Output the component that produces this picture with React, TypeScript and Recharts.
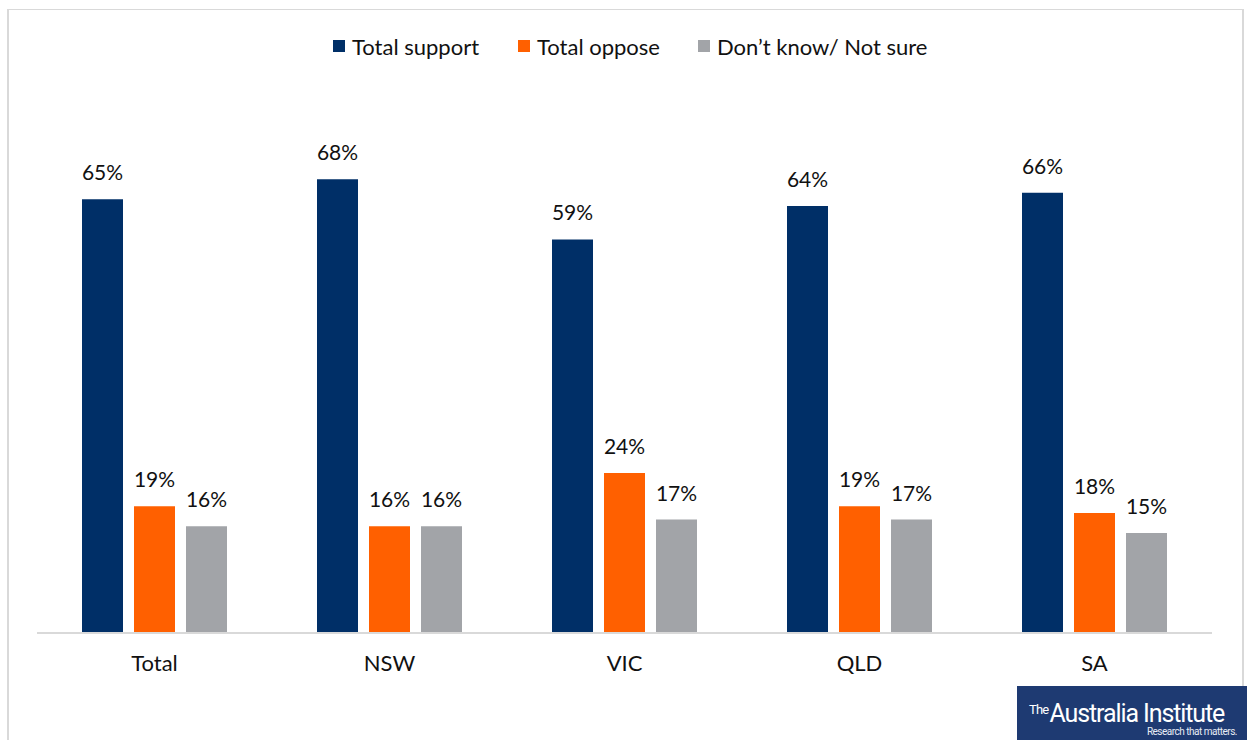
import React from "react";
import { BarChart, Bar, XAxis, YAxis, Legend, LabelList } from "recharts";

const categories = ["Total", "NSW", "VIC", "QLD", "SA"];
const totalSupport = [65, 68, 59, 64, 66];
const totalOppose = [19, 16, 24, 19, 18];
const dontKnow = [16, 16, 17, 17, 15];

const seriesNames = ["Total support", "Total oppose", "Don\u2019t know/ Not sure"];
const seriesColors = ["#002F67", "#FF6000", "#A2A4A8"];

const data = categories.map((c, i) => ({
  name: c,
  support: totalSupport[i],
  oppose: totalOppose[i],
  dk: dontKnow[i],
}));

const FONT = "Lato, 'Open Sans', sans-serif";

const ValueLabel = (props: any) => {
  const { x, y, width, value } = props;
  return (
    <text
      x={x + width / 2}
      y={y - 19}
      textAnchor="middle"
      fontFamily={FONT}
      fontSize={21}
      fill="#111"
    >
      {value}%
    </text>
  );
};

const Tick = (props: any) => {
  const { x, y, payload } = props;
  return (
    <text x={x} y={y + 30} textAnchor="middle" fontFamily={FONT} fontSize={22} fill="#111">
      {payload.value}
    </text>
  );
};

const legendLefts = [333, 518, 698];

const LegendContent = () => (
  <div style={{ position: "relative", width: 1247, height: 30 }}>
    {seriesNames.map((n, i) => (
      <div
        key={n}
        style={{
          position: "absolute",
          left: legendLefts[i],
          top: 0,
          display: "flex",
          alignItems: "center",
          height: 30,
          fontFamily: FONT,
          fontSize: 22,
          color: "#111",
          whiteSpace: "nowrap",
        }}
      >
        <span
          style={{
            display: "inline-block",
            width: 12,
            height: 12,
            background: seriesColors[i],
            marginRight: 7,
          }}
        />
        {n}
      </div>
    ))}
  </div>
);

export default function App() {
  return (
    <div
      style={{
        position: "fixed",
        left: 0,
        top: 0,
        width: 1247,
        height: 740,
        background: "#fff",
        overflow: "hidden",
      }}
    >
      <div
        style={{
          position: "absolute",
          left: 7,
          top: 9,
          width: 1233,
          height: 760,
          borderLeft: "2px solid #d9d9d9",
          borderTop: "1px solid #d9d9d9",
          borderRight: "2px solid #d9d9d9",
        }}
      />
      <div style={{ position: "absolute", left: 0, top: 0 }}>
        <BarChart
          width={1247}
          height={740}
          data={data}
          margin={{ top: 136, right: 35, bottom: 77, left: 37 }}
          barCategoryGap={45}
          barGap={11}
        >
          <XAxis
            dataKey="name"
            axisLine={{ stroke: "#d9d9d9", strokeWidth: 2 }}
            tickLine={false}
            tick={<Tick />}
            height={30}
            interval={0}
          />
          <YAxis hide domain={[0, 70]} />
          <Legend
            verticalAlign="top"
            content={<LegendContent />}
            wrapperStyle={{ position: "absolute", top: 31, left: 0, width: 1247, height: 30 }}
          />
          <Bar dataKey="support" name={seriesNames[0]} fill={seriesColors[0]} isAnimationActive={false}>
            <LabelList dataKey="support" content={<ValueLabel />} />
          </Bar>
          <Bar dataKey="oppose" name={seriesNames[1]} fill={seriesColors[1]} isAnimationActive={false}>
            <LabelList dataKey="oppose" content={<ValueLabel />} />
          </Bar>
          <Bar dataKey="dk" name={seriesNames[2]} fill={seriesColors[2]} isAnimationActive={false}>
            <LabelList dataKey="dk" content={<ValueLabel />} />
          </Bar>
        </BarChart>
      </div>
      <div
        style={{
          position: "absolute",
          left: 1017,
          top: 686,
          width: 230,
          height: 54,
          background: "#1E3A72",
          color: "#fff",
          fontFamily: "Roboto, sans-serif",
        }}
      >
        <div
          style={{
            position: "absolute",
            left: 12,
            top: 11,
            fontSize: 25,
            letterSpacing: -1.1,
            whiteSpace: "nowrap",
            lineHeight: "26px",
          }}
        >
          <span style={{ fontSize: 13, verticalAlign: 8, letterSpacing: -0.8, marginRight: 1 }}>The</span>
          Australia Institute
        </div>
        <div
          style={{
            position: "absolute",
            right: 10,
            top: 40,
            fontSize: 10,
            letterSpacing: -0.5,
            whiteSpace: "nowrap",
            lineHeight: "12px",
            color: "#e8ecf5",
          }}
        >
          Research that matters.
        </div>
      </div>
    </div>
  );
}
